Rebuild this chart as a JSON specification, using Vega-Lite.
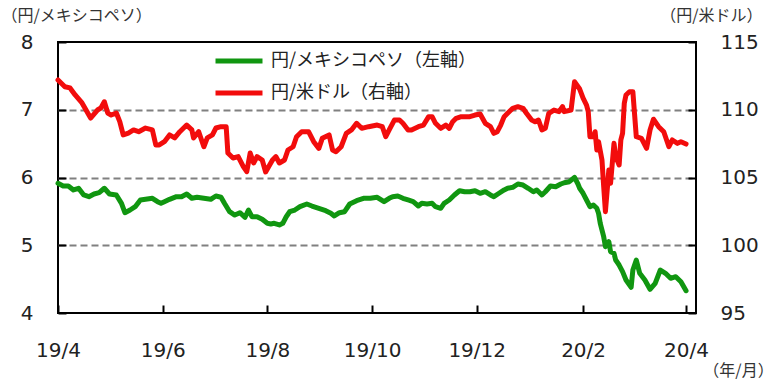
{
  "$schema": "https://vega.github.io/schema/vega-lite/v6.json",
  "width": 638,
  "height": 271,
  "autosize": {"type": "none"},
  "padding": {"left": 58, "top": 42, "right": 84, "bottom": 70},
  "background": "white",
  "config": {
    "view": {"stroke": "black", "strokeWidth": 2},
    "axis": {
      "labelFont": "DejaVu Sans",
      "labelFontSize": 20,
      "labelColor": "#222",
      "titleFont": "Noto Sans CJK JP",
      "titleFontSize": 16,
      "titleFontWeight": "normal",
      "titleColor": "#333",
      "domain": false,
      "tickColor": "black",
      "tickWidth": 2,
      "tickSize": -8
    },
    "legend": {
      "labelFont": "Noto Sans CJK JP",
      "labelFontSize": 18,
      "labelColor": "#222",
      "labelLimit": 400
    }
  },
  "datasets": {
    "mxn": [
      {"date": "2019-04-01", "value": 5.914}, {"date": "2019-04-04", "value": 5.875}, {"date": "2019-04-07", "value": 5.875}, {"date": "2019-04-10", "value": 5.816}, {"date": "2019-04-13", "value": 5.841}, {"date": "2019-04-16", "value": 5.742}, {"date": "2019-04-19", "value": 5.717}, {"date": "2019-04-22", "value": 5.756}, {"date": "2019-04-25", "value": 5.776}, {"date": "2019-04-28", "value": 5.841},
      {"date": "2019-05-01", "value": 5.756}, {"date": "2019-05-05", "value": 5.742}, {"date": "2019-05-08", "value": 5.619}, {"date": "2019-05-10", "value": 5.48}, {"date": "2019-05-13", "value": 5.52}, {"date": "2019-05-16", "value": 5.569}, {"date": "2019-05-19", "value": 5.668}, {"date": "2019-05-22", "value": 5.678}, {"date": "2019-05-26", "value": 5.693}, {"date": "2019-05-29", "value": 5.643}, {"date": "2019-05-31", "value": 5.619},
      {"date": "2019-06-02", "value": 5.643}, {"date": "2019-06-05", "value": 5.678}, {"date": "2019-06-09", "value": 5.717}, {"date": "2019-06-12", "value": 5.717}, {"date": "2019-06-15", "value": 5.756}, {"date": "2019-06-18", "value": 5.693}, {"date": "2019-06-21", "value": 5.708}, {"date": "2019-06-25", "value": 5.693}, {"date": "2019-06-29", "value": 5.678},
      {"date": "2019-07-02", "value": 5.727}, {"date": "2019-07-05", "value": 5.708}, {"date": "2019-07-07", "value": 5.619}, {"date": "2019-07-10", "value": 5.495}, {"date": "2019-07-13", "value": 5.446}, {"date": "2019-07-16", "value": 5.48}, {"date": "2019-07-19", "value": 5.413}, {"date": "2019-07-21", "value": 5.52}, {"date": "2019-07-23", "value": 5.421}, {"date": "2019-07-26", "value": 5.421}, {"date": "2019-07-29", "value": 5.383},
      {"date": "2019-08-01", "value": 5.324}, {"date": "2019-08-03", "value": 5.314}, {"date": "2019-08-05", "value": 5.324}, {"date": "2019-08-08", "value": 5.299}, {"date": "2019-08-10", "value": 5.324}, {"date": "2019-08-12", "value": 5.421}, {"date": "2019-08-14", "value": 5.495}, {"date": "2019-08-17", "value": 5.52}, {"date": "2019-08-20", "value": 5.569}, {"date": "2019-08-24", "value": 5.609}, {"date": "2019-08-27", "value": 5.579}, {"date": "2019-08-31", "value": 5.545},
      {"date": "2019-09-04", "value": 5.51}, {"date": "2019-09-07", "value": 5.472}, {"date": "2019-09-09", "value": 5.432}, {"date": "2019-09-12", "value": 5.48}, {"date": "2019-09-15", "value": 5.495}, {"date": "2019-09-18", "value": 5.609}, {"date": "2019-09-22", "value": 5.658}, {"date": "2019-09-26", "value": 5.693}, {"date": "2019-09-30", "value": 5.693},
      {"date": "2019-10-04", "value": 5.708}, {"date": "2019-10-08", "value": 5.643}, {"date": "2019-10-11", "value": 5.693}, {"date": "2019-10-13", "value": 5.717}, {"date": "2019-10-16", "value": 5.727}, {"date": "2019-10-19", "value": 5.693}, {"date": "2019-10-22", "value": 5.668}, {"date": "2019-10-25", "value": 5.643}, {"date": "2019-10-28", "value": 5.579}, {"date": "2019-10-30", "value": 5.619},
      {"date": "2019-11-02", "value": 5.609}, {"date": "2019-11-05", "value": 5.619}, {"date": "2019-11-07", "value": 5.569}, {"date": "2019-11-10", "value": 5.545}, {"date": "2019-11-12", "value": 5.619}, {"date": "2019-11-15", "value": 5.668}, {"date": "2019-11-18", "value": 5.742}, {"date": "2019-11-21", "value": 5.805}, {"date": "2019-11-24", "value": 5.79}, {"date": "2019-11-27", "value": 5.79}, {"date": "2019-11-30", "value": 5.805},
      {"date": "2019-12-03", "value": 5.767}, {"date": "2019-12-06", "value": 5.79}, {"date": "2019-12-09", "value": 5.742}, {"date": "2019-12-11", "value": 5.717}, {"date": "2019-12-14", "value": 5.767}, {"date": "2019-12-17", "value": 5.816}, {"date": "2019-12-19", "value": 5.841}, {"date": "2019-12-22", "value": 5.855}, {"date": "2019-12-25", "value": 5.904}, {"date": "2019-12-28", "value": 5.889}, {"date": "2019-12-31", "value": 5.841},
      {"date": "2020-01-03", "value": 5.79}, {"date": "2020-01-05", "value": 5.816}, {"date": "2020-01-08", "value": 5.742}, {"date": "2020-01-10", "value": 5.79}, {"date": "2020-01-13", "value": 5.875}, {"date": "2020-01-16", "value": 5.864}, {"date": "2020-01-19", "value": 5.904}, {"date": "2020-01-21", "value": 5.923}, {"date": "2020-01-24", "value": 5.938}, {"date": "2020-01-27", "value": 6.003}, {"date": "2020-01-29", "value": 5.904}, {"date": "2020-01-30", "value": 5.841},
      {"date": "2020-02-01", "value": 5.767}, {"date": "2020-02-03", "value": 5.668}, {"date": "2020-02-05", "value": 5.569}, {"date": "2020-02-07", "value": 5.594}, {"date": "2020-02-09", "value": 5.545}, {"date": "2020-02-10", "value": 5.472}, {"date": "2020-02-11", "value": 5.324}, {"date": "2020-02-13", "value": 5.126}, {"date": "2020-02-14", "value": 4.979}, {"date": "2020-02-16", "value": 5.052}, {"date": "2020-02-17", "value": 4.905}, {"date": "2020-02-19", "value": 4.881}, {"date": "2020-02-20", "value": 4.782}, {"date": "2020-02-22", "value": 4.708}, {"date": "2020-02-24", "value": 4.61}, {"date": "2020-02-26", "value": 4.487}, {"date": "2020-02-29", "value": 4.379},
      {"date": "2020-03-01", "value": 4.635}, {"date": "2020-03-03", "value": 4.782}, {"date": "2020-03-05", "value": 4.586}, {"date": "2020-03-08", "value": 4.487}, {"date": "2020-03-11", "value": 4.35}, {"date": "2020-03-14", "value": 4.438}, {"date": "2020-03-17", "value": 4.635}, {"date": "2020-03-20", "value": 4.586}, {"date": "2020-03-23", "value": 4.512}, {"date": "2020-03-26", "value": 4.536}, {"date": "2020-03-29", "value": 4.462}, {"date": "2020-04-01", "value": 4.329}
    ],
    "usd": [
      {"date": "2019-04-01", "value": 112.2}, {"date": "2019-04-05", "value": 111.7}, {"date": "2019-04-08", "value": 111.61}, {"date": "2019-04-11", "value": 111.09}, {"date": "2019-04-15", "value": 110.5}, {"date": "2019-04-20", "value": 109.39}, {"date": "2019-04-24", "value": 109.98}, {"date": "2019-04-26", "value": 110.13}, {"date": "2019-04-28", "value": 110.59}, {"date": "2019-04-30", "value": 109.76},
      {"date": "2019-05-02", "value": 109.61}, {"date": "2019-05-05", "value": 109.76}, {"date": "2019-05-07", "value": 109.12}, {"date": "2019-05-09", "value": 108.14}, {"date": "2019-05-12", "value": 108.28}, {"date": "2019-05-15", "value": 108.51}, {"date": "2019-05-18", "value": 108.38}, {"date": "2019-05-22", "value": 108.65}, {"date": "2019-05-26", "value": 108.51}, {"date": "2019-05-28", "value": 107.4}, {"date": "2019-05-30", "value": 107.4},
      {"date": "2019-06-02", "value": 107.64}, {"date": "2019-06-05", "value": 108.14}, {"date": "2019-06-08", "value": 107.92}, {"date": "2019-06-11", "value": 108.38}, {"date": "2019-06-15", "value": 108.87}, {"date": "2019-06-18", "value": 108.51}, {"date": "2019-06-19", "value": 107.92}, {"date": "2019-06-22", "value": 108.38}, {"date": "2019-06-25", "value": 107.27}, {"date": "2019-06-27", "value": 107.92}, {"date": "2019-06-30", "value": 108.14},
      {"date": "2019-07-02", "value": 108.65}, {"date": "2019-07-05", "value": 108.75}, {"date": "2019-07-08", "value": 108.75}, {"date": "2019-07-09", "value": 106.81}, {"date": "2019-07-12", "value": 106.44}, {"date": "2019-07-15", "value": 106.54}, {"date": "2019-07-18", "value": 105.8}, {"date": "2019-07-20", "value": 105.43}, {"date": "2019-07-22", "value": 106.81}, {"date": "2019-07-24", "value": 106.07}, {"date": "2019-07-26", "value": 106.54}, {"date": "2019-07-29", "value": 106.29}, {"date": "2019-07-31", "value": 105.41},
      {"date": "2019-08-04", "value": 106.29}, {"date": "2019-08-06", "value": 106.54}, {"date": "2019-08-08", "value": 106.07}, {"date": "2019-08-11", "value": 106.29}, {"date": "2019-08-13", "value": 107.03}, {"date": "2019-08-16", "value": 107.27}, {"date": "2019-08-18", "value": 108.01}, {"date": "2019-08-21", "value": 108.38}, {"date": "2019-08-25", "value": 108.38}, {"date": "2019-08-28", "value": 107.64}, {"date": "2019-08-31", "value": 107.15},
      {"date": "2019-09-02", "value": 107.89}, {"date": "2019-09-06", "value": 108.14}, {"date": "2019-09-08", "value": 107.03}, {"date": "2019-09-10", "value": 106.9}, {"date": "2019-09-13", "value": 107.27}, {"date": "2019-09-16", "value": 108.26}, {"date": "2019-09-19", "value": 108.51}, {"date": "2019-09-22", "value": 109.0}, {"date": "2019-09-25", "value": 108.63}, {"date": "2019-09-29", "value": 108.75},
      {"date": "2019-10-04", "value": 108.87}, {"date": "2019-10-07", "value": 108.75}, {"date": "2019-10-09", "value": 108.01}, {"date": "2019-10-11", "value": 108.51}, {"date": "2019-10-14", "value": 109.24}, {"date": "2019-10-17", "value": 109.24}, {"date": "2019-10-19", "value": 109.0}, {"date": "2019-10-22", "value": 108.51}, {"date": "2019-10-24", "value": 108.51}, {"date": "2019-10-28", "value": 108.75}, {"date": "2019-10-31", "value": 108.87},
      {"date": "2019-11-03", "value": 109.49}, {"date": "2019-11-05", "value": 109.49}, {"date": "2019-11-07", "value": 109.0}, {"date": "2019-11-10", "value": 108.63}, {"date": "2019-11-13", "value": 108.87}, {"date": "2019-11-15", "value": 108.63}, {"date": "2019-11-17", "value": 109.12}, {"date": "2019-11-19", "value": 109.37}, {"date": "2019-11-22", "value": 109.49}, {"date": "2019-11-27", "value": 109.49}, {"date": "2019-11-30", "value": 109.61},
      {"date": "2019-12-03", "value": 109.69}, {"date": "2019-12-06", "value": 109.0}, {"date": "2019-12-09", "value": 108.75}, {"date": "2019-12-11", "value": 108.26}, {"date": "2019-12-13", "value": 108.38}, {"date": "2019-12-15", "value": 108.87}, {"date": "2019-12-17", "value": 109.49}, {"date": "2019-12-19", "value": 109.74}, {"date": "2019-12-22", "value": 110.11}, {"date": "2019-12-25", "value": 110.23}, {"date": "2019-12-28", "value": 110.11}, {"date": "2019-12-30", "value": 109.74},
      {"date": "2020-01-02", "value": 109.24}, {"date": "2020-01-04", "value": 109.12}, {"date": "2020-01-06", "value": 109.24}, {"date": "2020-01-08", "value": 108.51}, {"date": "2020-01-10", "value": 108.63}, {"date": "2020-01-12", "value": 109.74}, {"date": "2020-01-15", "value": 109.98}, {"date": "2020-01-18", "value": 109.86}, {"date": "2020-01-20", "value": 110.23}, {"date": "2020-01-21", "value": 109.86}, {"date": "2020-01-25", "value": 109.98}, {"date": "2020-01-27", "value": 112.07}, {"date": "2020-01-30", "value": 111.53},
      {"date": "2020-02-01", "value": 110.85}, {"date": "2020-02-03", "value": 110.35}, {"date": "2020-02-04", "value": 109.86}, {"date": "2020-02-05", "value": 108.01}, {"date": "2020-02-07", "value": 108.01}, {"date": "2020-02-08", "value": 108.38}, {"date": "2020-02-09", "value": 107.03}, {"date": "2020-02-10", "value": 107.64}, {"date": "2020-02-12", "value": 106.29}, {"date": "2020-02-13", "value": 104.32}, {"date": "2020-02-14", "value": 102.48}, {"date": "2020-02-16", "value": 105.55}, {"date": "2020-02-17", "value": 104.57}, {"date": "2020-02-19", "value": 107.52}, {"date": "2020-02-20", "value": 106.54}, {"date": "2020-02-22", "value": 105.92}, {"date": "2020-02-23", "value": 107.77}, {"date": "2020-02-24", "value": 108.26}, {"date": "2020-02-25", "value": 110.48}, {"date": "2020-02-26", "value": 111.09}, {"date": "2020-02-28", "value": 111.33},
      {"date": "2020-03-01", "value": 111.33}, {"date": "2020-03-03", "value": 108.01}, {"date": "2020-03-06", "value": 107.89}, {"date": "2020-03-09", "value": 107.15}, {"date": "2020-03-11", "value": 108.51}, {"date": "2020-03-13", "value": 109.3}, {"date": "2020-03-16", "value": 108.75}, {"date": "2020-03-19", "value": 108.38}, {"date": "2020-03-22", "value": 107.27}, {"date": "2020-03-24", "value": 107.77}, {"date": "2020-03-27", "value": 107.52}, {"date": "2020-03-29", "value": 107.64}, {"date": "2020-04-01", "value": 107.47}
    ]
  },
  "encoding": {
    "x": {
      "field": "date",
      "type": "temporal",
      "scale": {
        "type": "utc",
        "domain": [
          {"year": 2019, "month": 4, "date": 1, "utc": true},
          {"year": 2020, "month": 4, "date": 6, "hours": 19, "utc": true}
        ]
      },
      "axis": {
        "values": [
          {"year": 2019, "month": 4, "date": 1, "utc": true},
          {"year": 2019, "month": 6, "date": 1, "utc": true},
          {"year": 2019, "month": 8, "date": 1, "utc": true},
          {"year": 2019, "month": 10, "date": 1, "utc": true},
          {"year": 2019, "month": 12, "date": 1, "utc": true},
          {"year": 2020, "month": 2, "date": 1, "utc": true},
          {"year": 2020, "month": 4, "date": 1, "utc": true}
        ],
        "labelExpr": "utcFormat(datum.value, '%y/%-m')",
        "grid": false,
        "labelPadding": 35,
        "labelFlush": false,
        "labelOverlap": false,
        "title": "（年/月）",
        "titleX": 680,
        "titleY": 57,
        "titleAnchor": null,
        "titleAlign": "center",
        "titleBaseline": "middle"
      }
    }
  },
  "layer": [
    {
      "data": {"name": "mxn"},
      "mark": {"type": "line", "strokeWidth": 5, "strokeJoin": "round", "strokeCap": "round"},
      "encoding": {
        "y": {
          "field": "value",
          "type": "quantitative",
          "scale": {"domain": [4, 8], "nice": false, "zero": false},
          "axis": {
            "orient": "left",
            "values": [4, 5, 6, 7, 8],
            "grid": true,
            "gridColor": "#808080",
            "gridWidth": 2,
            "gridDash": [7, 4],
            "gridOpacity": {"condition": {"test": "datum.value == 4 || datum.value == 8", "value": 0}, "value": 1},
            "labelPadding": 33,
            "title": "（円/メキシコペソ）",
            "titleAngle": 0,
            "titleX": -57,
            "titleY": -27,
            "titleAlign": "left",
            "titleBaseline": "middle"
          }
        },
        "color": {
          "datum": "円/メキシコペソ（左軸）",
          "scale": {
            "domain": ["円/メキシコペソ（左軸）", "円/米ドル（右軸）"],
            "range": ["#109610", "#f20c0c"]
          },
          "legend": {
            "orient": "none",
            "legendX": 172,
            "legendY": 10,
            "title": null,
            "padding": 0,
            "symbolType": "M-4,0H4",
            "symbolSize": 138,
            "symbolStrokeWidth": 5,
            "labelOffset": 23,
            "rowPadding": 12
          }
        }
      }
    },
    {
      "data": {"name": "usd"},
      "mark": {"type": "line", "strokeWidth": 5, "strokeJoin": "round", "strokeCap": "round"},
      "encoding": {
        "y": {
          "field": "value",
          "type": "quantitative",
          "scale": {"domain": [95, 115], "nice": false, "zero": false},
          "axis": {
            "orient": "right",
            "values": [95, 100, 105, 110, 115],
            "grid": false,
            "labelPadding": 32,
            "title": "（円/米ドル）",
            "titleAngle": 0,
            "titleX": 66,
            "titleY": -27,
            "titleAlign": "right",
            "titleBaseline": "middle"
          }
        },
        "color": {"datum": "円/米ドル（右軸）"}
      }
    }
  ],
  "resolve": {"scale": {"y": "independent"}}
}
